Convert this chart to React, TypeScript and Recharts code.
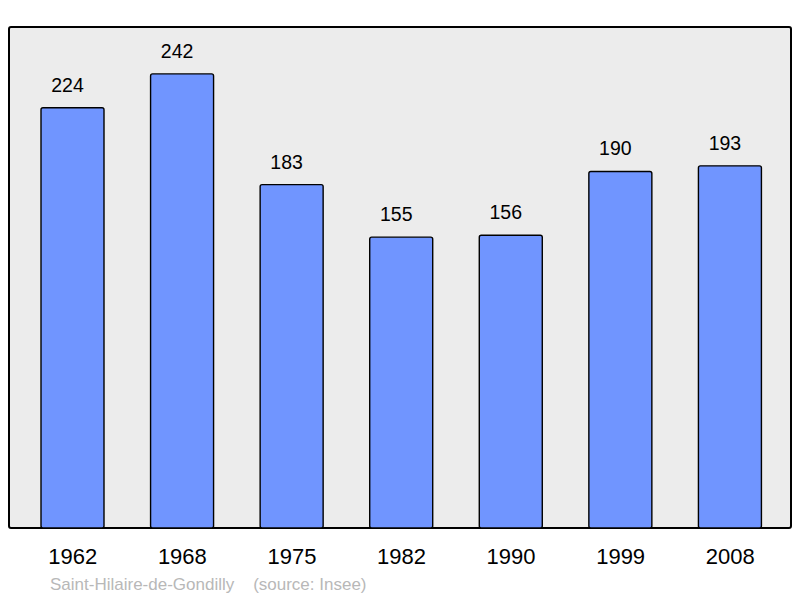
import { BarChart, Bar, XAxis, YAxis, CartesianGrid, LabelList } from 'recharts'

const years = ['1962', '1968', '1975', '1982', '1990', '1999', '2008']
const population = [224, 242, 183, 155, 156, 190, 193]
const commune = 'Saint-Hilaire-de-Gondilly'
const source = '(source: Insee)'

const data = years.map((year, i) => ({ year, population: population[i] }))

const font = '"Liberation Sans", Arial, sans-serif'

export default function App() {
    return (
        <div style={{ position: 'absolute', left: 0, top: 0, width: 800, height: 598, fontFamily: font }}>
            {/* frame behind the chart */}
            <div
                style={{
                    position: 'absolute',
                    left: 8,
                    top: 26,
                    width: 780,
                    height: 499,
                    background: '#ececec',
                    border: '2px solid #000',
                    borderRadius: 3,
                }}
            />
            <div style={{ position: 'absolute', left: 0, top: 0 }}>
                <BarChart width={800} height={598} data={data} margin={{ top: 27, right: 9, bottom: 40, left: 9 }}>
                    <CartesianGrid horizontal={false} vertical={false} />
                    <XAxis
                        dataKey="year"
                        padding={{ left: 9, right: 6 }}
                        axisLine={false}
                        tickLine={false}
                        tickSize={0}
                        tickMargin={20}
                        height={30}
                        tick={{ fontSize: 22, fill: '#000', fontFamily: font }}
                    />
                    <YAxis hide domain={[0, 267]} />
                    <Bar
                        dataKey="population"
                        barSize={63}
                        fill="#7095ff"
                        stroke="#000"
                        strokeWidth={1.4}
                        radius={2}
                        isAnimationActive={false}
                    >
                        <LabelList
                            dataKey="population"
                            position="top"
                            offset={16}
                            dx={-5}
                            style={{ fontSize: 19.5, fill: '#000', fontFamily: font }}
                        />
                    </Bar>
                </BarChart>
            </div>
            <div
                style={{
                    position: 'absolute',
                    left: 50,
                    top: 575,
                    fontSize: 17,
                    color: '#b8b8b8',
                    whiteSpace: 'pre',
                }}
            >
                {commune + '    ' + source}
            </div>
        </div>
    )
}
